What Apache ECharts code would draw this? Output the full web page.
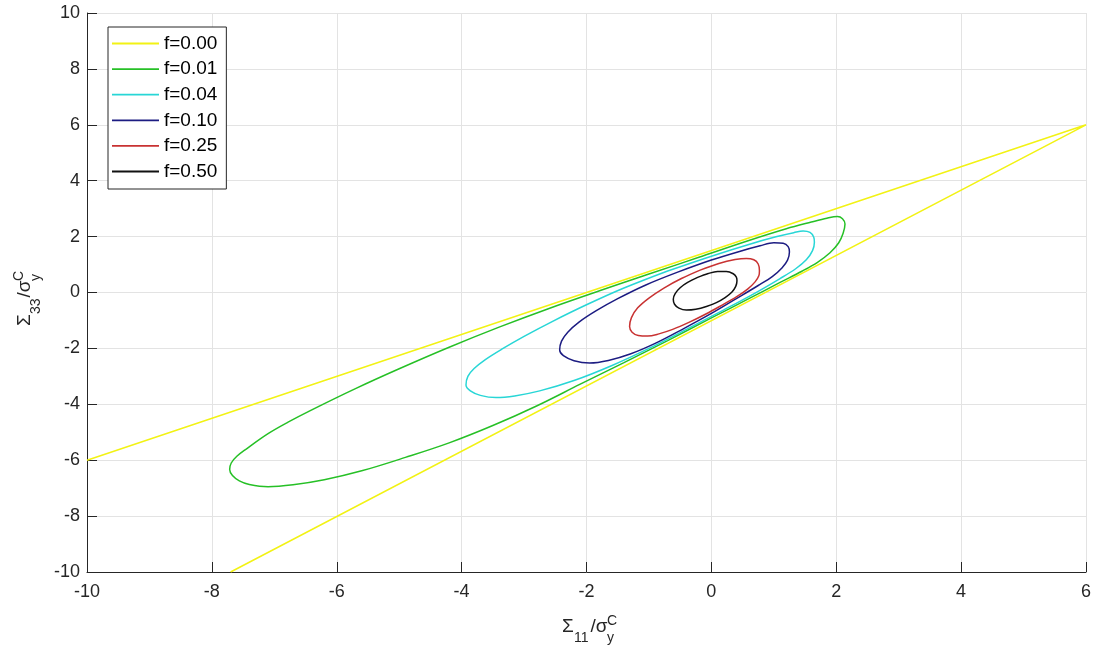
<!DOCTYPE html>
<html>
<head>
<meta charset="utf-8">
<script src="https://cdn.jsdelivr.net/npm/echarts@6/dist/echarts.min.js"></script>
<style>
html,body{margin:0;padding:0;background:#ffffff;}
#chart{width:1099px;height:654px;}
</style>
</head>
<body>
<div id="chart"></div>
<script>
// ---- tick values ----
const xTickValues = [-10, -8, -6, -4, -2, 0, 2, 4, 6];
const yTickValues = [-10, -8, -6, -4, -2, 0, 2, 4, 6, 8, 10];

// ---- series names ----
const seriesNames = ['f=0.00', 'f=0.01', 'f=0.04', 'f=0.10', 'f=0.25', 'f=0.50'];

const f000 = [[-10, -6], [6, 6], [-7.7, -10]];

const f001 = [
  [-1.00, 0.66], [-0.20, 1.26], [0.60, 1.86], [1.20, 2.28], [1.60, 2.52], [1.85, 2.66],
  [2.02, 2.72], [2.10, 2.64], [2.14, 2.45], [2.11, 2.12], [2.04, 1.78], [1.90, 1.42],
  [1.70, 1.08], [1.45, 0.76], [1.10, 0.36], [0.60, -0.22], [0.00, -0.91], [-0.70, -1.72],
  [-1.40, -2.51], [-2.10, -3.28], [-2.80, -4.06], [-3.50, -4.76], [-4.20, -5.38],
  [-4.90, -5.90], [-5.60, -6.38], [-6.20, -6.70], [-6.70, -6.88], [-7.10, -6.95],
  [-7.40, -6.87], [-7.56, -6.74], [-7.67, -6.55], [-7.715, -6.33], [-7.69, -6.10],
  [-7.60, -5.86], [-7.45, -5.60], [-7.10, -5.05], [-6.78, -4.64], [-6.40, -4.20],
  [-5.70, -3.44], [-5.00, -2.73], [-4.20, -1.96], [-3.40, -1.24], [-2.60, -0.57],
  [-1.78, 0.07], [-1.00, 0.66]
];

const f004 = [
  [-0.70, 0.77], [0.00, 1.30], [0.60, 1.72], [1.05, 2.00], [1.32, 2.14], [1.47, 2.20],
  [1.58, 2.15], [1.64, 1.98], [1.65, 1.80], [1.62, 1.50], [1.52, 1.17], [1.35, 0.85],
  [1.10, 0.50], [0.70, -0.02], [0.20, -0.62], [-0.40, -1.32], [-1.00, -2.00],
  [-1.60, -2.62], [-2.20, -3.15], [-2.75, -3.52], [-3.15, -3.70], [-3.45, -3.76],
  [-3.70, -3.68], [-3.86, -3.52], [-3.93, -3.31], [-3.90, -3.00], [-3.80, -2.72],
  [-3.62, -2.40], [-3.35, -2.02], [-3.00, -1.57], [-2.55, -1.04], [-2.00, -0.44],
  [-1.40, 0.16], [-0.70, 0.77]
];

const f010 = [
  [-0.55, 0.72], [0.00, 1.16], [0.45, 1.47], [0.78, 1.67], [1.00, 1.78], [1.15, 1.76],
  [1.23, 1.64], [1.25, 1.45], [1.22, 1.16], [1.13, 0.88], [0.98, 0.58], [0.75, 0.25],
  [0.40, -0.22], [0.00, -0.75], [-0.45, -1.30], [-0.90, -1.82], [-1.30, -2.20],
  [-1.65, -2.43], [-1.95, -2.52], [-2.20, -2.44], [-2.37, -2.26], [-2.43, -2.06],
  [-2.40, -1.74], [-2.30, -1.42], [-2.12, -1.06], [-1.85, -0.66], [-1.50, -0.22],
  [-1.05, 0.27], [-0.55, 0.72]
];

const f025 = [
  [-0.18, 0.80], [0.12, 1.04], [0.38, 1.18], [0.56, 1.22], [0.68, 1.17], [0.75, 1.02],
  [0.77, 0.78], [0.76, 0.60], [0.70, 0.38], [0.58, 0.12], [0.40, -0.16], [0.18, -0.44],
  [-0.08, -0.76], [-0.36, -1.07], [-0.62, -1.32], [-0.84, -1.48], [-1.02, -1.56],
  [-1.17, -1.54], [-1.27, -1.42], [-1.31, -1.22], [-1.28, -0.90], [-1.18, -0.55],
  [-1.00, -0.20], [-0.76, 0.16], [-0.48, 0.50], [-0.18, 0.80]
];

const f050 = [
  [-0.22, 0.54], [-0.05, 0.68], [0.10, 0.75], [0.24, 0.75], [0.35, 0.67], [0.40, 0.55],
  [0.41, 0.42], [0.39, 0.22], [0.33, 0.02], [0.22, -0.18], [0.08, -0.36], [-0.08, -0.50],
  [-0.25, -0.60], [-0.40, -0.63], [-0.52, -0.56], [-0.59, -0.42], [-0.61, -0.24],
  [-0.58, -0.04], [-0.50, 0.17], [-0.38, 0.36], [-0.22, 0.54]
];

const curves = [f000, f001, f004, f010, f025, f050];
const curveColors = ['#f2f214', '#26c026', '#28d6d6', '#1c1c82', '#c83232', '#111111'];

const FONT = '"Liberation Sans", Arial, Helvetica, sans-serif';
const TXT = '#262626';

function titleGroup(mainA, subA, mainB, subB, supB, x, y, rotation) {
  const big = '19px ' + FONT;
  const small = '14px ' + FONT;
  const t = (text, dx, dy, font) => ({
    type: 'text', x: dx, y: dy,
    style: { text: text, font: font, fill: TXT, align: 'left', verticalAlign: 'middle',
             textAlign: 'left', textVerticalAlign: 'middle' }
  });
  return {
    type: 'group', x: x, y: y, rotation: rotation, silent: true,
    children: [
      t(mainA, 0, 0, big),
      t(subA, 12, 11, small),
      t(mainB, 28.5, 0, big),
      t(subB, 45, 11, small),
      t(supB, 45, -6, small)
    ]
  };
}

const chart = echarts.init(document.getElementById('chart'), null, { renderer: 'canvas' });

const series = curves.map((d, i) => ({
  type: 'line',
  name: seriesNames[i],
  data: d,
  symbol: 'none',
  showSymbol: false,
  smooth: i === 0 ? false : 0.35,
  clip: true,
  lineStyle: { width: 1.5, color: curveColors[i] },
  itemStyle: { color: curveColors[i] },
  emphasis: { disabled: true },
  z: 2 + i
}));

const axisCommon = {
  type: 'value',
  axisLine: { show: true, onZero: false, lineStyle: { color: TXT, width: 1 } },
  axisTick: { show: true, inside: true, length: 10, lineStyle: { color: TXT, width: 1 } },
  splitLine: { show: true, lineStyle: { color: '#e3e3e3', width: 1 } },
  axisLabel: { color: TXT, fontSize: 18, fontFamily: FONT }
};

const option = {
  animation: false,
  backgroundColor: '#ffffff',
  grid: { left: 87, right: 13, top: 13, bottom: 82, containLabel: false },
  xAxis: Object.assign({}, axisCommon, {
    min: xTickValues[0], max: xTickValues[xTickValues.length - 1], interval: 2,
    axisLabel: Object.assign({}, axisCommon.axisLabel, { margin: 11 })
  }),
  yAxis: Object.assign({}, axisCommon, {
    min: yTickValues[0], max: yTickValues[yTickValues.length - 1], interval: 2,
    axisLabel: Object.assign({}, axisCommon.axisLabel, { margin: 7 })
  }),
  legend: {
    data: seriesNames,
    orient: 'vertical',
    left: 108, top: 27,
    padding: [7, 9, 8, 4],
    icon: 'rect',
    itemWidth: 47, itemHeight: 1.8, itemGap: 6.6,
    backgroundColor: '#ffffff',
    borderColor: TXT, borderWidth: 1, borderRadius: 0,
    selectedMode: false,
    textStyle: { fontSize: 19, fontFamily: FONT, color: '#000000', lineHeight: 19 }
  },
  graphic: [
    titleGroup('Σ', '11', '/σ', 'y', 'C', 562, 627, 0),
    titleGroup('Σ', '33', '/σ', 'y', 'C', 25, 326, Math.PI / 2)
  ],
  series: series
};

chart.setOption(option);
</script>
</body>
</html>
